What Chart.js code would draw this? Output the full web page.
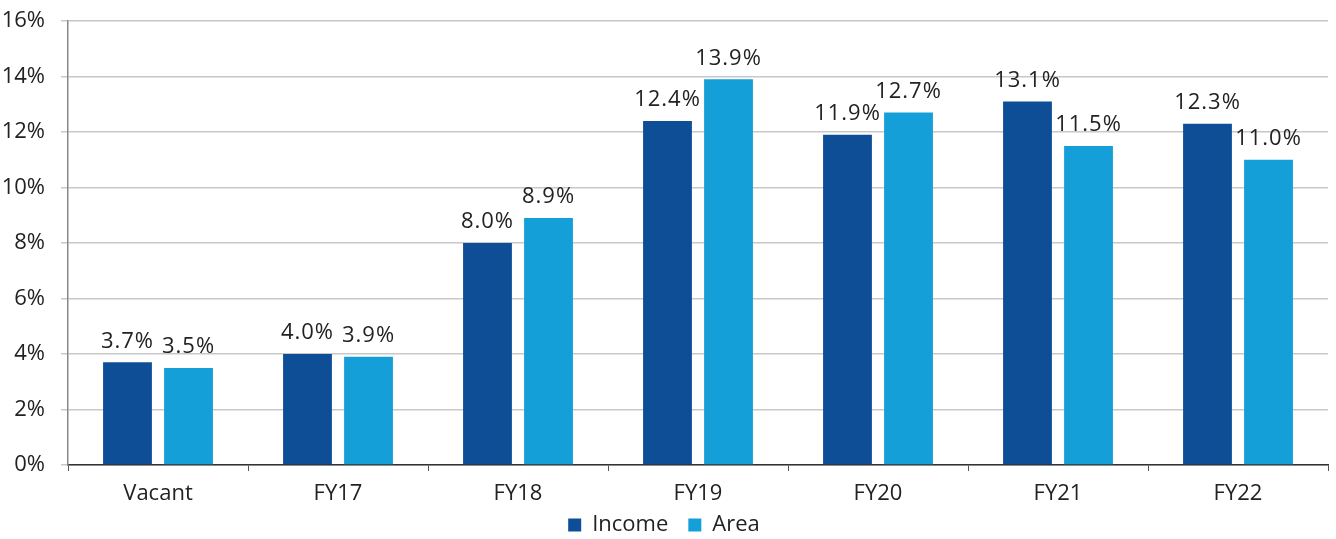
<!DOCTYPE html>
<html>
<head>
<meta charset="utf-8">
<script src="https://cdn.jsdelivr.net/npm/chart.js@4/dist/chart.umd.min.js"></script>
<style>
html,body{margin:0;padding:0;background:#fff;}
#wrap{width:1336px;height:539px;position:relative;}
</style>
</head>
<body>
<div id="wrap"><canvas id="c" width="1336" height="539"></canvas></div>
<script>
const categories = ['Vacant', 'FY17', 'FY18', 'FY19', 'FY20', 'FY21', 'FY22'];
const incomeValues = [3.7, 4.0, 8.0, 12.4, 11.9, 13.1, 12.3];
const areaValues = [3.5, 3.9, 8.9, 13.9, 12.7, 11.5, 11.0];
const yTicks = [0, 2, 4, 6, 8, 10, 12, 14, 16];

const FONT = '"Open Sans", "Liberation Sans", sans-serif';
const TEXT = '#222222';

const valueLabels = {
  id: 'valueLabels',
  afterDatasetsDraw(chart) {
    const ctx = chart.ctx;
    ctx.save();
    ctx.font = '22px ' + FONT;
    ctx.fillStyle = TEXT;
    ctx.textAlign = 'center';
    ctx.textBaseline = 'bottom';
    try { ctx.letterSpacing = '1px'; } catch (e) {}
    chart.data.datasets.forEach((ds, i) => {
      const meta = chart.getDatasetMeta(i);
      meta.data.forEach((el, j) => {
        ctx.fillText(ds.data[j].toFixed(1) + '%', el.x, el.y - 10);
      });
    });
    ctx.restore();
  }
};

// move the legend up so its row sits just under the category labels
const legendPlace = {
  id: 'legendPlace',
  afterLayout(chart) {
    const lg = chart.legend;
    if (!lg) return;
    lg.top = 494;
    lg.bottom = 539;
    lg.height = 45;
  }
};

new Chart(document.getElementById('c'), {
  type: 'bar',
  data: {
    labels: categories,
    datasets: [
      { label: 'Income', data: incomeValues, backgroundColor: '#0D4E96', borderWidth: 0,
        categoryPercentage: 0.678, barPercentage: 0.8 },
      { label: 'Area', data: areaValues, backgroundColor: '#159FD9', borderWidth: 0,
        categoryPercentage: 0.678, barPercentage: 0.8 }
    ]
  },
  options: {
    responsive: false,
    animation: false,
    devicePixelRatio: 1,
    layout: { padding: { top: 21, right: 8, left: 0, bottom: 0 } },
    plugins: {
      legend: {
        position: 'bottom',
        maxHeight: 26,
        labels: {
          font: { size: 22, family: FONT },
          color: TEXT,
          boxWidth: 13,
          boxHeight: 13,
          padding: 20
        }
      },
      tooltip: { enabled: false }
    },
    scales: {
      x: {
        grid: { drawOnChartArea: false, drawTicks: true, tickLength: 6, tickColor: '#555555' },
        border: { color: '#333333', width: 1.5 },
        ticks: { font: { size: 22, family: FONT }, color: TEXT, padding: 10 },
        afterFit(s) { s.height = 48; }
      },
      y: {
        min: 0, max: 16,
        afterBuildTicks(s) { s.ticks = yTicks.map(v => ({ value: v })); },
        grid: { color: '#C8C8C8', lineWidth: 1.5, tickLength: 7 },
        border: { color: '#888888', width: 1.5 },
        ticks: { font: { size: 22, family: FONT }, color: TEXT, padding: 16,
                 callback: v => v + '%' },
        afterFit(s) { s.width = 68; s.paddingTop = 0; s.paddingBottom = 0; }
      }
    }
  },
  plugins: [valueLabels, legendPlace]
});
</script>
</body>
</html>
